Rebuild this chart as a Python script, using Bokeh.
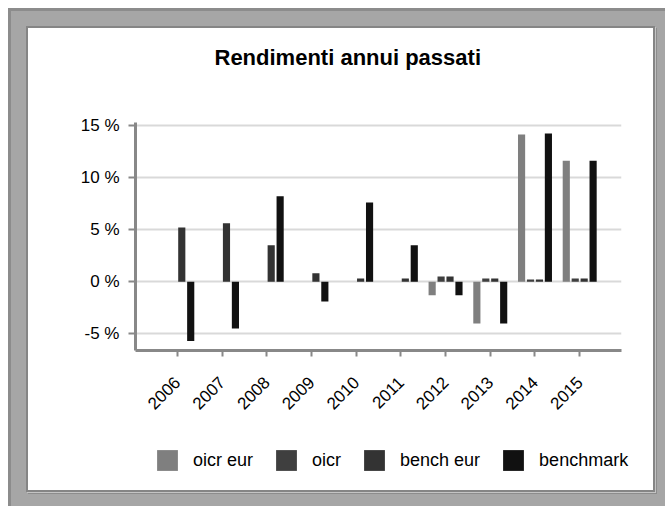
from math import pi
from bokeh.plotting import figure
from bokeh.layouts import column
from bokeh.models import (ColumnDataSource, FactorRange, Range1d, FixedTicker, Legend,
                          LegendItem)
from bokeh.transform import dodge
from bokeh.embed import file_html
from bokeh.resources import INLINE

nan = float("nan")

# ---- data ----
years = ["2006", "2007", "2008", "2009", "2010", "2011", "2012", "2013", "2014", "2015"]
oicr_eur = [nan, nan, nan, nan, nan, nan, -1.3, -4.0, 14.1, 11.6]
oicr = [nan, nan, nan, nan, nan, nan, 0.5, 0.3, 0.2, 0.3]
bench_eur = [5.2, 5.6, 3.5, 0.8, 0.3, 0.3, 0.5, 0.3, 0.2, 0.3]
benchmark = [-5.7, -4.5, 8.2, -1.9, 7.6, 3.5, -1.3, -4.0, 14.2, 11.6]
series_names = ["oicr eur", "oicr", "bench eur", "benchmark"]
series_keys = ["oicr_eur", "oicr", "bench_eur", "benchmark"]
series_colors = ["#7f7f7f", "#3f3f3f", "#333333", "#111111"]
y_ticks = [-5, 0, 5, 10, 15]
y_tick_labels = ["-5 %", "0 %", "5 %", "10 %", "15 %"]
title_text = "Rendimenti annui passati"

src = ColumnDataSource(dict(year=years, oicr_eur=oicr_eur, oicr=oicr,
                            bench_eur=bench_eur, benchmark=benchmark))

FONT = "Liberation Sans"
AXIS_GRAY = "#888888"
offsets = [-0.3, -0.1, 0.1, 0.3]

# ---- title strip ----
tf = figure(width=625, height=56, x_axis_type=None, y_axis_type=None,
            output_backend="svg", toolbar_location=None,
            min_border_left=107, min_border_right=32, min_border_top=0, min_border_bottom=0,
            background_fill_color="white", border_fill_color="white")
tf.outline_line_color = None
tf.title.text = title_text
tf.title.text_font = FONT
tf.title.text_font_size = "22px"
tf.title.text_font_style = "bold"
tf.title.text_color = "#000000"
tf.title.align = "left"
tf.title.offset = 79
tf.title.standoff = 28

# ---- main chart ----
p = figure(
    x_range=FactorRange(*years, range_padding=0.435, range_padding_units="absolute"),
    y_range=Range1d(-6.6, 15.26),
    width=625, height=346,
    output_backend="svg", toolbar_location=None,
    min_border_left=107, min_border_right=32, min_border_top=38, min_border_bottom=80,
    background_fill_color="white", border_fill_color="white",
)
p.outline_line_color = None

for key, off, col in zip(series_keys, offsets, series_colors):
    p.vbar(x=dodge("year", off, range=p.x_range), top=key, bottom=0, width=0.16,
           source=src, fill_color=col, line_color=None)

p.xgrid.grid_line_color = None
p.ygrid.ticker = FixedTicker(ticks=y_ticks)
p.ygrid.grid_line_color = "#d9d9d9"
p.ygrid.grid_line_width = 2

for ax in (p.xaxis[0], p.yaxis[0]):
    ax.axis_line_color = AXIS_GRAY
    ax.axis_line_width = 3
    ax.major_tick_line_color = AXIS_GRAY
    ax.major_tick_line_width = 2
    ax.minor_tick_line_color = None
    ax.major_tick_in = 0
    ax.major_label_text_font = FONT
    ax.major_label_text_font_size = "17px"
    ax.major_label_text_color = "#000000"

p.yaxis.ticker = FixedTicker(ticks=y_ticks)
p.yaxis.major_label_overrides = {t: l for t, l in zip(y_ticks, y_tick_labels)}
p.yaxis.major_tick_out = 7
p.yaxis.major_label_standoff = 9

p.xaxis.major_tick_out = 6
p.xaxis.major_label_orientation = pi / 4
p.xaxis.major_label_standoff = 23

# ---- legend strip (its bars lie outside the visible y range; only the legend shows) ----
lf = figure(width=625, height=60, x_range=FactorRange(*years), y_range=Range1d(100, 101),
            x_axis_type=None, y_axis_type=None,
            output_backend="svg", toolbar_location=None,
            min_border_left=0, min_border_right=0, min_border_top=0, min_border_bottom=0,
            background_fill_color="white", border_fill_color="white")
lf.outline_line_color = None
can_unalign = "frame_align" in lf.properties()
if can_unalign:
    lf.frame_align = False
lrs = []
for key, off, col in zip(series_keys, offsets, series_colors):
    lrs.append(lf.vbar(x=dodge("year", off, range=lf.x_range), top=key, bottom=0,
                       width=0.16, source=src, fill_color=col, line_color=None))

items = [LegendItem(label=nm, renderers=[r]) for nm, r in zip(series_names, lrs)]
legend = Legend(items=items, orientation="horizontal",
                location=(126, 17) if can_unalign else (8, 17),
                glyph_width=26, glyph_height=26, label_standoff=13, spacing=20,
                padding=0, margin=0, border_line_color=None, background_fill_alpha=0,
                label_text_font=FONT, label_text_font_size="18px", label_text_color="#000000")
lf.add_layout(legend, "center")

inner = column(tf, p, lf, styles={"border": "2px solid #858585", "background-color": "white",
                                  "box-shadow": "1px 1px 0 0 #c4c4c4, 2px 2px 0 0 #8c8c8c"})
layout = column(
    inner,
    styles={"background-color": "#a6a6a6", "border-left": "3px solid #8c8c8c",
            "border-top": "3px solid #8c8c8c", "padding": "15px 10px 14px 15px",
            "margin-left": "8px", "margin-top": "8px"},
)

open("out.html", "w").write(file_html(layout, INLINE))
